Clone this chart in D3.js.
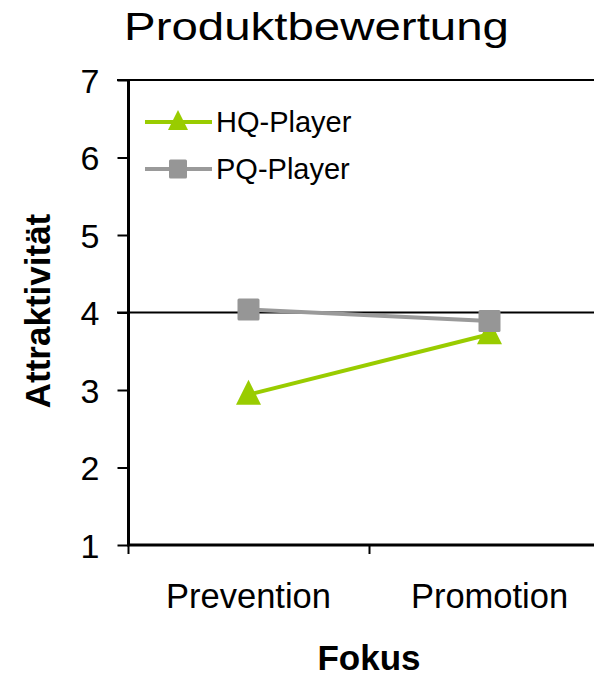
<!DOCTYPE html>
<html><head><meta charset="utf-8">
<script src="https://cdn.jsdelivr.net/npm/d3@7"></script>
<style>
body{margin:0;background:#fff;}
svg{display:block;font-family:"Liberation Sans",Arial,sans-serif;}
</style></head>
<body><svg id="c" width="594" height="676"></svg>
<script>
const categories = ["Prevention", "Promotion"];
const hqValues = [2.94, 3.72];
const pqValues = [4.04, 3.89];
const seriesNames = ["HQ-Player", "PQ-Player"];
const yTicks = [1, 2, 3, 4, 5, 6, 7];
const referenceValue = 4;
const title = "Produktbewertung";
const xTitle = "Fokus";
const yTitle = "Attraktivität";

const svg = d3.select("#c");
const green = "#99cc00", gray = "#969696", grayLine = "#9a9a9a";

const y = d3.scaleLinear().domain([1, 7]).range([545, 80]);
const x = d3.scaleBand().domain(categories).range([128, 610]);
const cx = c => x(c) + x.bandwidth() / 2;

// title
svg.append("text").attr("x", 316.5).attr("y", 40).attr("text-anchor", "middle")
  .attr("font-size", 39).attr("textLength", 385).attr("lengthAdjust", "spacingAndGlyphs")
  .text(title);

// top border and reference line
svg.append("line").attr("x1", 117).attr("x2", 594).attr("y1", y(7)).attr("y2", y(7))
  .attr("stroke", "#000").attr("stroke-width", 2);
svg.append("line").attr("x1", 117).attr("x2", 594).attr("y1", y(referenceValue)).attr("y2", y(referenceValue))
  .attr("stroke", "#000").attr("stroke-width", 2);

// y axis
const yAxis = svg.append("g").attr("transform", "translate(128.5,0)")
  .call(d3.axisLeft(y).tickValues(yTicks).tickSize(11).tickPadding(6).tickFormat(d3.format("d")));
yAxis.select(".domain").remove();
yAxis.selectAll(".tick line").attr("stroke", "#000").attr("stroke-width", 2);
yAxis.selectAll(".tick text").attr("font-size", 34).attr("fill", "#000")
  .attr("font-family", "Liberation Sans, Arial, sans-serif").attr("x", -29).attr("dy", "0.36em");
svg.append("line").attr("x1", 128.5).attr("x2", 128.5).attr("y1", y(7) - 1).attr("y2", y(1) + 1)
  .attr("stroke", "#000").attr("stroke-width", 3);

// x axis
svg.append("line").attr("x1", 127).attr("x2", 594).attr("y1", y(1)).attr("y2", y(1))
  .attr("stroke", "#000").attr("stroke-width", 3);
svg.selectAll(".xtick").data(categories).enter().append("line")
  .attr("x1", d => x(d) + 0.5).attr("x2", d => x(d) + 0.5)
  .attr("y1", y(1)).attr("y2", y(1) + 9).attr("stroke", "#000").attr("stroke-width", 2);
svg.selectAll(".xlab").data(categories).enter().append("text")
  .attr("x", d => cx(d)).attr("y", 608).attr("text-anchor", "middle")
  .attr("font-size", 34.5).text(d => d);

// axis titles
svg.append("text").attr("x", 369).attr("y", 670).attr("text-anchor", "middle")
  .attr("font-size", 35).attr("font-weight", "bold").text(xTitle);
svg.append("text").attr("transform", "translate(50,311) rotate(-90)").attr("text-anchor", "middle")
  .attr("font-size", 35).attr("font-weight", "bold").text(yTitle);

const line = d3.line().x(d => cx(d.c)).y(d => y(d.v));
const hq = categories.map((c, i) => ({c, v: hqValues[i]}));
const pq = categories.map((c, i) => ({c, v: pqValues[i]}));

const triPath = (s) => `M0,${-s*0.6}L${s/2},${s*0.4}L${-s/2},${s*0.4}Z`;

// HQ series
svg.append("path").attr("d", line(hq)).attr("fill", "none").attr("stroke", green).attr("stroke-width", 4);
svg.selectAll(".hq").data(hq).enter().append("path")
  .attr("transform", d => `translate(${cx(d.c)},${y(d.v)})`)
  .attr("d", triPath(25)).attr("fill", green);

// PQ series
svg.append("path").attr("d", line(pq)).attr("fill", "none").attr("stroke", grayLine).attr("stroke-width", 4);
svg.selectAll(".pq").data(pq).enter().append("rect")
  .attr("x", d => cx(d.c) - 11).attr("y", d => y(d.v) - 11)
  .attr("width", 22).attr("height", 22).attr("rx", 1.5).attr("fill", gray);

// legend
const leg = svg.append("g");
const legY = [122, 169];
leg.append("line").attr("x1", 145).attr("x2", 212).attr("y1", legY[0]).attr("y2", legY[0]).attr("stroke", green).attr("stroke-width", 4);
leg.append("path").attr("transform", `translate(178,${legY[0]})`).attr("d", triPath(20)).attr("fill", green);
leg.append("line").attr("x1", 145).attr("x2", 212).attr("y1", legY[1]).attr("y2", legY[1]).attr("stroke", grayLine).attr("stroke-width", 4);
leg.append("rect").attr("x", 169).attr("y", legY[1] - 9.5).attr("width", 18).attr("height", 19).attr("rx", 1.5).attr("fill", gray);
seriesNames.forEach((n, i) => {
  leg.append("text").attr("x", 216).attr("y", legY[i] + 10).attr("font-size", 29).text(n);
});
</script></body></html>
